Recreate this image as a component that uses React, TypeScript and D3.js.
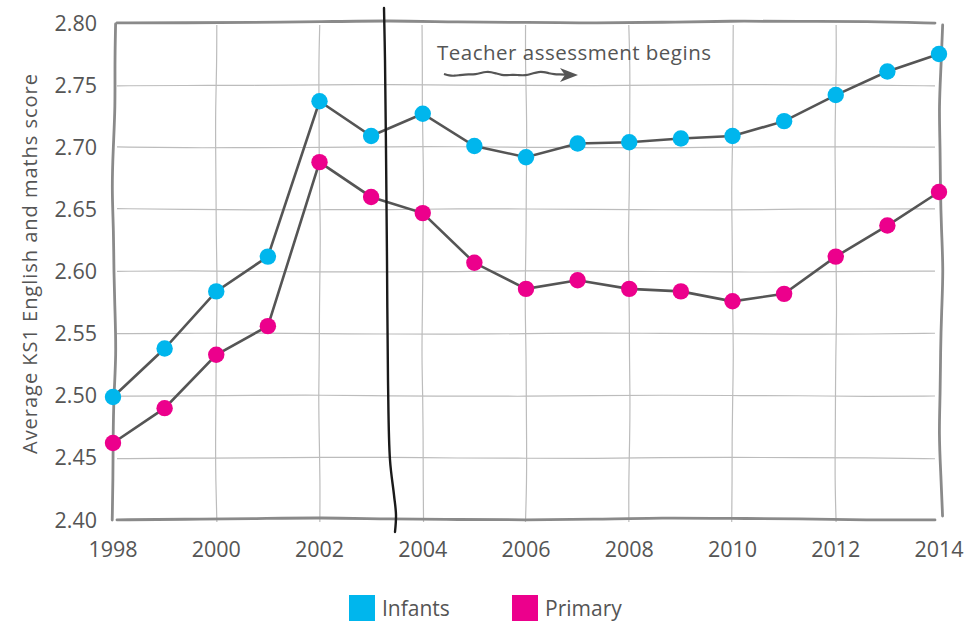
import React from "react";
import * as d3 from "d3";

const years = [1998, 1999, 2000, 2001, 2002, 2003, 2004, 2005, 2006, 2007, 2008, 2009, 2010, 2011, 2012, 2013, 2014];
const infants = [2.499, 2.538, 2.584, 2.612, 2.737, 2.709, 2.727, 2.701, 2.692, 2.703, 2.704, 2.707, 2.709, 2.721, 2.742, 2.761, 2.775];
const primary = [2.462, 2.490, 2.533, 2.556, 2.688, 2.660, 2.647, 2.607, 2.586, 2.593, 2.586, 2.584, 2.576, 2.582, 2.612, 2.637, 2.664];
const yTicks = [2.4, 2.45, 2.5, 2.55, 2.6, 2.65, 2.7, 2.75, 2.8];
const xTicks = [1998, 2000, 2002, 2004, 2006, 2008, 2010, 2012, 2014];
const seriesNames = ["Infants", "Primary"];
const seriesColors = ["#00b6ed", "#ec008c"];
const annotation = "Teacher assessment begins";
const yLabel = "Average KS1 English and maths score";

const W = 969, H = 624;
const FONT = "'Open Sans', 'Noto Sans', sans-serif";
const TXT = "#555";

export default function App() {
  const x = d3.scaleLinear().domain([1998, 2014]).range([113, 939]);
  const y = d3.scaleLinear().domain([2.4, 2.8]).range([520, 23]);

  const wob = (t: number, a: number, f: number, p: number) => a * Math.sin(t * f + p);
  const curve = d3.line<[number, number]>().x(d => d[0]).y(d => d[1]).curve(d3.curveBasis);

  const hPath = (x0: number, x1: number, yy: number, amp: number, seed: number) => {
    const pts: [number, number][] = [];
    const n = 12;
    for (let i = 0; i <= n; i++) {
      const t = i / n;
      pts.push([x0 + (x1 - x0) * t, yy + wob(t * 10, amp, 1.3, seed) + wob(t * 10, amp * 0.5, 3.1, seed * 2)]);
    }
    return curve(pts) || "";
  };
  const vPath = (xx: number, y0: number, y1: number, amp: number, seed: number) => {
    const pts: [number, number][] = [];
    const n = 12;
    for (let i = 0; i <= n; i++) {
      const t = i / n;
      pts.push([xx + wob(t * 10, amp, 1.1, seed) + wob(t * 10, amp * 0.5, 2.7, seed * 3), y0 + (y1 - y0) * t]);
    }
    return curve(pts) || "";
  };

  const line = d3.line<number>().x((_, i) => x(years[i])).y(d => y(d));

  const top = y(2.8), bot = y(2.4), left = x(1998), right = x(2014);

  const blackLine: [number, number][] = [
    [384, 8], [385, 60], [386, 150], [387, 260], [388, 380], [390, 460], [394, 495], [396, 515], [395, 532],
  ];
  const arrowPts: [number, number][] = [];
  for (let i = 0; i <= 24; i++) {
    const t = i / 24;
    arrowPts.push([444 + 126 * t, 74 + 1.6 * Math.sin(t * 14) + 0.8 * Math.sin(t * 31)]);
  }

  return (
    <svg width={W} height={H} style={{ position: "absolute", left: 0, top: 0, background: "#fff" }}>
      <g fill="none" stroke="#bcbcbc" strokeWidth={1.2}>
        {yTicks.slice(1, -1).map((t, i) => (
          <path key={"gy" + t} d={hPath(left + 4, right - 4, y(t), 0.6, i + 1)} />
        ))}
        {xTicks.slice(1, -1).map((t, i) => (
          <path key={"gx" + t} d={vPath(x(t), top + 2, bot + 2, 0.7, i + 2)} />
        ))}
      </g>
      <g fill="none" stroke="#8a8a8a" strokeWidth={2.8} strokeLinecap="round">
        <path d={hPath(left + 4, right - 4, top - 1, 1.0, 0.5)} />
        <path d={hPath(left + 4, right - 4, bot - 1, 1.0, 1.7)} />
        <path d={vPath(left + 1, top + 1, bot, 1.6, 0.9)} />
        <path d={vPath(right + 2, top + 2, bot - 4, 1.6, 2.3)} />
      </g>
      {yTicks.map(t => (
        <text key={"yt" + t} x={97} y={y(t) + 7.5} textAnchor="end" fontFamily={FONT} fontSize={21.5} fill={TXT}>
          {t.toFixed(2)}
        </text>
      ))}
      {xTicks.map(t => (
        <text key={"xt" + t} x={x(t)} y={557} textAnchor="middle" fontFamily={FONT} fontSize={21.5} fill={TXT}>
          {t}
        </text>
      ))}
      <text transform={`translate(37,264) rotate(-90)`} textAnchor="middle" fontFamily={FONT} fontSize={20}
        fill={TXT} textLength={380} lengthAdjust="spacing">
        {yLabel}
      </text>
      {[infants, primary].map((s, k) => (
        <path key={"l" + k} d={line(s) || ""} fill="none" stroke="#555" strokeWidth={2.6} />
      ))}
      <path d={d3.line().curve(d3.curveCatmullRom)(blackLine) || ""} fill="none" stroke="#1a1a1a" strokeWidth={2.4} strokeLinecap="round" />
      {[infants, primary].map((s, k) =>
        s.map((v, i) => (
          <circle key={"c" + k + "-" + i} cx={x(years[i])} cy={y(v)} r={8.2} fill={seriesColors[k]} />
        ))
      )}
      <text x={437} y={60} fontFamily={FONT} fontSize={20.5} fill={TXT} textLength={274} lengthAdjust="spacing">{annotation}</text>
      <path d={d3.line().curve(d3.curveBasis)(arrowPts) || ""} fill="none" stroke="#555" strokeWidth={2.2} />
      <path d="M560,68 L578,75 L560,82 L565,75 Z" fill="#555" />
      {seriesNames.map((n, k) => (
        <g key={"lg" + k} transform={`translate(${k === 0 ? 349 : 512},595)`}>
          <rect width={26} height={26} fill={seriesColors[k]} />
          <text x={33} y={21} fontFamily={FONT} fontSize={21} fill={TXT}>{n}</text>
        </g>
      ))}
    </svg>
  );
}
